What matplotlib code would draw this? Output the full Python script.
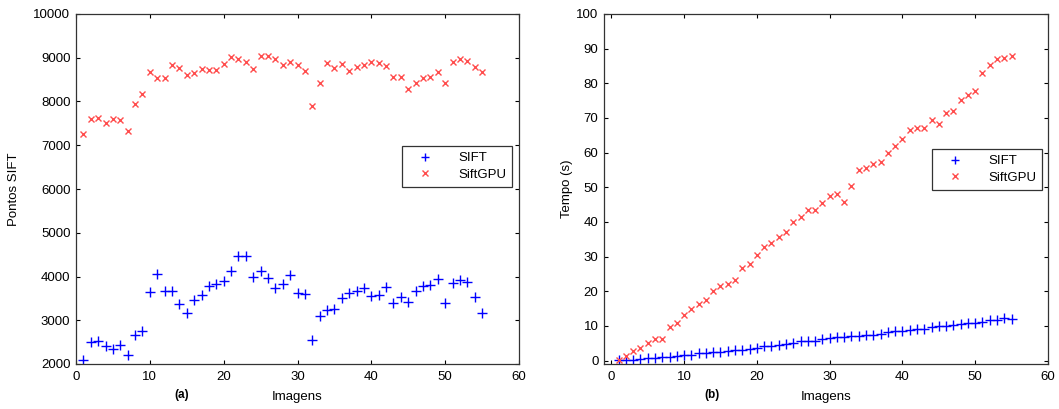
import matplotlib
matplotlib.use("Agg")
import matplotlib.pyplot as plt
import numpy as np

plt.rcParams['font.family'] = ['Liberation Sans', 'DejaVu Sans']

imagens = list(range(1, 56))

sift_pontos = [2090, 2494, 2525, 2418, 2350, 2441, 2213, 2669, 2760, 3650,
               4053, 3673, 3673, 3369, 3163, 3468, 3574, 3779, 3840, 3901,
               4129, 4471, 4471, 4000, 4129, 3977, 3734, 3840, 4030, 3620,
               3597, 2548, 3103, 3240, 3262, 3513, 3627, 3680, 3726, 3544,
               3574, 3749, 3384, 3536, 3422, 3673, 3779, 3802, 3954, 3392,
               3848, 3924, 3878, 3521, 3163]

siftgpu_pontos = [7258, 7598, 7621, 7515, 7598, 7568, 7318, 7947, 8182, 8667,
                  8545, 8545, 8833, 8773, 8606, 8644, 8742, 8712, 8712, 8848,
                  9023, 8977, 8894, 8742, 9045, 9030, 8970, 8841, 8894, 8826,
                  8689, 7902, 8432, 8871, 8758, 8848, 8705, 8788, 8826, 8894,
                  8871, 8818, 8568, 8568, 8280, 8432, 8530, 8561, 8667, 8432,
                  8894, 8970, 8917, 8795, 8682]

sift_tempo = [0.2, 0.1, 0.1, 0.3, 0.7, 0.7, 1.0, 1.0, 1.3, 1.5,
              1.6, 2.1, 2.3, 2.4, 2.5, 2.8, 3.0, 3.0, 3.3, 3.7,
              4.1, 4.3, 4.4, 4.8, 5.2, 5.5, 5.5, 5.7, 6.1, 6.5,
              6.9, 6.9, 7.0, 7.1, 7.4, 7.4, 7.8, 8.1, 8.4, 8.4,
              8.8, 9.0, 9.0, 9.7, 10.0, 10.0, 10.3, 10.5, 10.7, 10.9,
              11.2, 11.7, 11.7, 12.4, 12.0]

siftgpu_tempo = [0.1, 1.4, 2.7, 3.6, 5.2, 6.3, 6.3, 9.6, 10.7, 13.0,
                 15.0, 16.3, 17.6, 20.1, 21.4, 22.0, 23.3, 26.6, 27.8, 30.4,
                 32.7, 33.9, 35.6, 37.2, 40.0, 41.3, 43.3, 43.5, 45.5, 47.4,
                 48.0, 45.8, 50.4, 54.9, 55.5, 56.7, 57.4, 59.9, 61.8, 63.8,
                 66.6, 67.0, 67.0, 69.4, 68.3, 71.3, 72.1, 75.1, 76.6, 77.7,
                 83.1, 85.3, 87.0, 87.4, 88.0]

W, H = 1059, 409
fig = plt.figure(figsize=(W / 100, H / 100), dpi=100)

ax1 = fig.add_axes([76 / W, 1 - 364 / H, (519 - 76) / W, (364 - 14) / H])
ax2 = fig.add_axes([604 / W, 1 - 364 / H, (1048 - 604) / W, (364 - 14) / H])

blue = '#0000ff'
red = '#ff4d4d'
FS = 9.5

def style(ax):
    ax.tick_params(direction='in', top=True, right=True, labelsize=FS,
                   length=3, width=0.8, colors='black')
    ax.tick_params(axis='x', pad=5)
    ax.tick_params(axis='y', pad=4)
    for s in ax.spines.values():
        s.set_linewidth(0.9)
        s.set_color('#333333')

def legend(ax, x0, y0):
    lg = ax.legend(loc='upper left', bbox_to_anchor=(x0, y0), borderaxespad=0,
                   fontsize=FS, frameon=True, fancybox=False, edgecolor='black',
                   borderpad=0.45, handletextpad=1.2, labelspacing=0.35,
                   handlelength=2.6, markerscale=0.75)
    lg.get_frame().set_linewidth(0.9)
    return lg

ax1.plot(imagens, sift_pontos, linestyle='none', marker='+', color=blue,
         markersize=7, markeredgewidth=1.0, label='SIFT')
ax1.plot(imagens, siftgpu_pontos, linestyle='none', marker='x', color=red,
         markersize=5, markeredgewidth=1.0, label='SiftGPU')
ax1.set_xlim(0, 60)
ax1.set_ylim(2000, 10000)
ax1.set_xticks(range(0, 61, 10))
ax1.set_yticks(range(2000, 10001, 1000))
style(ax1)
ax1.set_ylabel('Pontos SIFT', fontsize=FS, labelpad=10)
ax1.set_xlabel('Imagens', fontsize=FS, labelpad=6)
fig.text(182 / W, 1 - 395 / H, '(a)', fontsize=8.5, fontweight='bold',
         ha='center', va='center')
legend(ax1, (402 - 76) / (519 - 76), 1 - (146 - 14) / 350)

ax2.plot(imagens, sift_tempo, linestyle='none', marker='+', color=blue,
         markersize=7, markeredgewidth=1.0, label='SIFT')
ax2.plot(imagens, siftgpu_tempo, linestyle='none', marker='x', color=red,
         markersize=5, markeredgewidth=1.0, label='SiftGPU')
ax2.set_xlim(-1, 60)
ax2.set_ylim(-1, 100)
ax2.set_xticks(range(0, 61, 10))
ax2.set_yticks(range(0, 101, 10))
style(ax2)
ax2.set_ylabel('Tempo (s)', fontsize=FS, labelpad=2)
ax2.set_xlabel('Imagens', fontsize=FS, labelpad=6)
fig.text(712 / W, 1 - 395 / H, '(b)', fontsize=8.5, fontweight='bold',
         ha='center', va='center')
legend(ax2, (932 - 604) / (1048 - 604), 1 - (149 - 14) / 350)

fig.savefig('out.png', dpi=100, facecolor='white')
